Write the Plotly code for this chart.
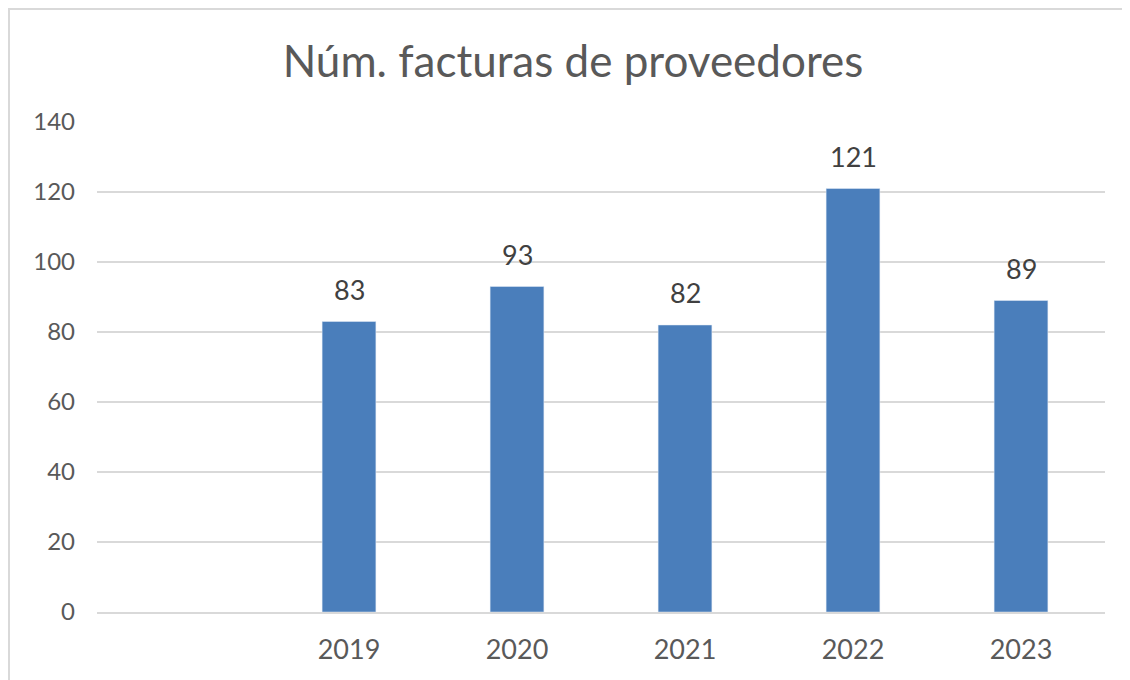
import plotly.graph_objects as go

years = [" ", "2019", "2020", "2021", "2022", "2023"]
invoices = [None, 83, 93, 82, 121, 89]
y_ticks = [0, 20, 40, 60, 80, 100, 120, 140]

# plot area in figure pixels (page has an 8px body margin)
L, R, T, B = 89, 33, 114, 76
PW, PH = 1130 - L - R, 680 - T - B

fig = go.Figure(
    go.Bar(
        x=years,
        y=invoices,
        marker=dict(color="#4A7EBB"),
        hoverinfo="skip",
    )
)

# value labels above bars (category index used as x position)
labels = [
    dict(
        x=i,
        y=v,
        text=str(v),
        showarrow=False,
        yanchor="bottom",
        yshift=14,
        font=dict(size=27, color="#404040", family="Lato"),
    )
    for i, v in enumerate(invoices)
    if v is not None
]

fig.update_layout(
    width=1130,
    height=680,
    title=dict(
        text="Núm. facturas de proveedores",
        x=0.5,
        xanchor="center",
        y=1 - 54 / 680,
        yanchor="middle",
        font=dict(size=44, color="#595959", family="Lato"),
    ),
    margin=dict(l=L, r=R, t=T, b=B),
    bargap=0.68,
    showlegend=False,
    paper_bgcolor="#ffffff",
    plot_bgcolor="#ffffff",
    font=dict(family="Lato", color="#595959", size=24),
    annotations=labels,
    shapes=[
        dict(
            type="rect",
            xref="paper",
            yref="paper",
            x0=(1 - L) / PW,
            x1=(1116 - L) / PW,
            y0=-(B + 20) / PH,
            y1=(PH + T - 1) / PH,
            line=dict(color="#d9d9d9", width=2),
            layer="below",
        )
    ],
)
fig.update_xaxes(
    type="category",
    categoryorder="array",
    categoryarray=years,
    range=[-0.5, len(years) - 0.5],
    showgrid=False,
    showline=True,
    linecolor="#d9d9d9",
    linewidth=1.5,
    ticks="",
    ticklabelstandoff=13,
    tickfont=dict(size=27, color="#595959"),
)
fig.update_yaxes(
    range=[0, 140],
    tickvals=y_ticks,
    showgrid=True,
    gridcolor="#d9d9d9",
    gridwidth=1.5,
    zeroline=False,
    showline=False,
    ticks="",
    ticklabelstandoff=21,
    tickfont=dict(size=24, color="#595959"),
)

fig.write_html("out.html")
